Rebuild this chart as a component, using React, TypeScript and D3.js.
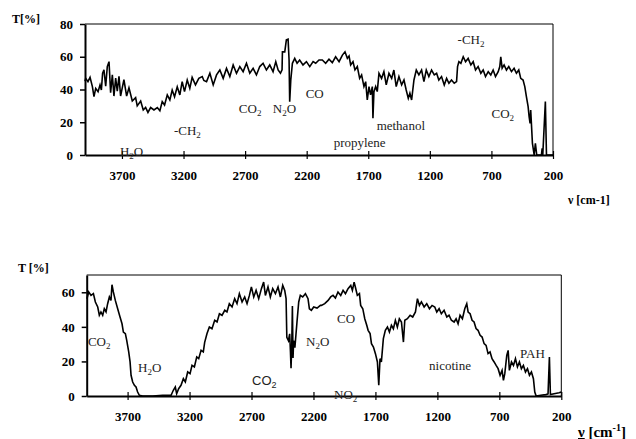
import React, { useEffect, useRef } from 'react';
import * as d3 from 'd3';

// wavenumber [cm-1], transmittance [%]
const topSpectrum: [number, number][] = [
  [4000, 45], [3994, 46.8], [3976, 44.8], [3959, 47.4], [3940, 41.8], [3927, 35.6], [3913, 40.7],
  [3894, 38.7], [3878, 42.8], [3867, 39.7], [3857, 50], [3846, 52], [3832, 42], [3819, 54],
  [3805, 57], [3792, 38], [3778, 49], [3765, 36], [3751, 47], [3738, 39], [3724, 48], [3711, 36],
  [3684, 46], [3662, 36], [3643, 41], [3616, 33], [3589, 35], [3576, 30], [3548, 33], [3527, 27.5],
  [3508, 29], [3489, 26], [3467, 29], [3440, 27.5], [3413, 29], [3392, 27], [3373, 32.6],
  [3354, 30.5], [3332, 36.7], [3311, 33.6], [3292, 39.7], [3273, 35.6], [3251, 41.7], [3230, 36.7],
  [3211, 44.8], [3192, 38.7], [3170, 45.8], [3149, 40.7], [3130, 47.4], [3103, 42.8], [3076, 46.8],
  [3048, 47.9], [3035, 45.5], [3013, 44.8], [2986, 49.9], [2959, 42.8], [2932, 48.9], [2905, 51.9],
  [2878, 46.8], [2851, 52.9], [2824, 47.9], [2797, 55], [2770, 49.9], [2743, 54], [2716, 50.9],
  [2689, 56], [2662, 49.9], [2635, 52.9], [2608, 48.9], [2581, 54], [2554, 56], [2527, 51.9],
  [2500, 55], [2473, 50.9], [2451, 57], [2432, 51.9], [2413, 49.9], [2400, 52], [2397, 63],
  [2378, 63], [2365, 70.3], [2351, 70.7], [2343, 58], [2338, 32.6], [2329, 45.8], [2316, 56],
  [2297, 59], [2278, 56], [2257, 58], [2230, 55], [2202, 57], [2175, 54], [2148, 57], [2127, 56],
  [2100, 58], [2073, 58], [2046, 56], [2019, 58.5], [1992, 56.4], [1965, 60], [1937, 57],
  [1910, 61], [1889, 63], [1870, 59], [1856, 60.5], [1843, 55], [1824, 57], [1808, 52],
  [1789, 54], [1770, 46.8], [1754, 48.9], [1735, 41.8], [1721, 44.8], [1708, 33.6], [1694, 41.8],
  [1681, 36.7], [1667, 41.8], [1662, 22.4], [1654, 38.7], [1640, 41.8], [1627, 38.7], [1613, 49.9],
  [1592, 46.8], [1573, 50.9], [1554, 42.8], [1532, 49.9], [1510, 46.8], [1492, 51.9], [1473, 41.8],
  [1451, 47.9], [1429, 42.8], [1410, 45.8], [1392, 39.7], [1375, 34.6], [1362, 37.7], [1348, 33.6],
  [1329, 45.8], [1310, 51.9], [1289, 48.9], [1267, 51.9], [1248, 44.8], [1229, 51.9], [1208, 47.9],
  [1186, 51.9], [1164, 48.9], [1145, 49.9], [1127, 45.8], [1105, 47.9], [1083, 42.8], [1064, 46.8],
  [1045, 43.8], [1024, 45.8], [1002, 43.8], [983, 44.8], [975, 54], [964, 57], [948, 56],
  [929, 60], [910, 57], [889, 59], [867, 55], [848, 57], [829, 51.9], [808, 54], [786, 49.9],
  [767, 51.9], [748, 47.9], [726, 50.9], [705, 48.9], [686, 51.9], [667, 47.9], [645, 50.9],
  [632, 54], [624, 60], [613, 53], [597, 55], [578, 51.9], [559, 54], [537, 50.9], [516, 52.9],
  [497, 49.9], [478, 51.9], [462, 46.8], [443, 45.8], [429, 41.8], [416, 35.6], [402, 29.5],
  [394, 23.4], [386, 19.3], [381, 27.5], [367, 7.1], [353, 0], [343, 7.1], [332, 0], [294, 0],
  [288, 4], [283, 0], [262, 32.6], [253, 0], [200, 0],
];

const bottomSpectrum: [number, number][] = [
  [4028, 56.3], [4014, 60.2], [3995, 58.2], [3976, 59.2], [3960, 54.4], [3941, 51.5], [3928, 46.7],
  [3915, 48.6], [3901, 46.7], [3888, 50.5], [3874, 48.6], [3861, 53.4], [3847, 57.3], [3834, 55.3],
  [3826, 64.4], [3815, 60.2], [3799, 55.3], [3780, 50.5], [3761, 45.7], [3745, 41.8], [3734, 37],
  [3718, 36.1], [3707, 32.2], [3691, 25.5], [3680, 19.7], [3672, 12], [3659, 8.1], [3645, 6.2],
  [3632, 5.2], [3619, 2.3], [3605, 0.4], [3578, 0], [3497, 0], [3417, 0.4], [3349, 0.4],
  [3331, 3.3], [3315, 5.2], [3304, 1.3], [3288, 4.2], [3269, 6.2], [3250, 10], [3234, 8.1],
  [3215, 13.9], [3196, 12.9], [3180, 17.7], [3161, 16.8], [3142, 22.6], [3126, 21.6], [3107, 26.4],
  [3089, 25.5], [3078, 31], [3059, 36.1], [3040, 39.9], [3019, 38.9], [2997, 43.8], [2978, 42.8],
  [2959, 47.6], [2938, 46.7], [2916, 49.6], [2898, 48.6], [2879, 53.4], [2857, 51.5], [2836, 56.3],
  [2817, 53.4], [2798, 59.2], [2776, 54.4], [2755, 57.3], [2736, 53.4], [2717, 58.2], [2701, 63.1],
  [2682, 57.3], [2663, 61.1], [2642, 56.3], [2620, 62.1], [2602, 65.9], [2588, 58.2], [2567, 63.1],
  [2548, 57.3], [2529, 62.1], [2507, 59.2], [2486, 63.1], [2467, 57.3], [2448, 64], [2432, 61.1],
  [2421, 56.3], [2415, 34], [2402, 32], [2392, 36], [2386, 26], [2381, 16], [2375, 30], [2370, 52],
  [2365, 22], [2360, 32], [2350, 28], [2333, 42.8], [2319, 54.4], [2306, 58.2], [2287, 57.3],
  [2265, 59.2], [2244, 56.3], [2233, 50.5], [2217, 49.6], [2198, 51.5], [2171, 50.9], [2144, 52.4],
  [2136, 52.4], [2109, 53.4], [2082, 55.3], [2061, 57.3], [2042, 58.2], [2023, 56.7], [2002, 60.2],
  [1980, 58.2], [1961, 61.1], [1942, 59.2], [1921, 62.1], [1899, 64], [1886, 61.1], [1872, 65.9],
  [1862, 63.1], [1846, 58.2], [1829, 59.2], [1819, 52.4], [1802, 50.5], [1786, 44.7], [1770, 40.9],
  [1759, 38], [1743, 36.1], [1732, 30.3], [1716, 28.3], [1700, 24.5], [1684, 19.7], [1673, 6.2],
  [1663, 21.6], [1652, 19.7], [1636, 33.2], [1620, 38], [1603, 39.9], [1587, 37], [1571, 40.9],
  [1555, 38.9], [1539, 43.8], [1523, 39.9], [1507, 44.7], [1490, 42.8], [1474, 31.2], [1463, 43.8],
  [1442, 44.7], [1420, 46.7], [1399, 45.7], [1377, 48.6], [1361, 56.3], [1345, 52.4], [1329, 54.4],
  [1307, 51.5], [1286, 53.4], [1264, 50.5], [1243, 52.4], [1221, 51.5], [1205, 48.6], [1186, 50.5],
  [1168, 47.6], [1146, 49.6], [1124, 45.7], [1106, 46.7], [1087, 43.8], [1065, 42.8], [1049, 44.7],
  [1033, 41.8], [1017, 46.7], [998, 44.7], [979, 50.5], [963, 53.4], [952, 48.6], [936, 47.6],
  [920, 43.8], [904, 42.8], [888, 39], [872, 38], [855, 35.1], [839, 34.1], [823, 30.3], [807, 29.3],
  [791, 24.5], [775, 25.5], [759, 21.6], [742, 19.7], [726, 17.7], [710, 15.8], [694, 12],
  [678, 14.8], [667, 9.1], [656, 12.9], [640, 23.5], [629, 26.4], [619, 14.8], [602, 19.7],
  [586, 17.7], [570, 21.6], [554, 16.8], [538, 19.7], [522, 15.8], [506, 17.7], [489, 13.9],
  [473, 15.8], [457, 12], [441, 13.9], [425, 10], [414, 2.3], [403, 0], [366, 0.4], [325, 0.8],
  [307, 1.2], [296, 22.6], [288, 0.8], [258, 1.3], [218, 1.9], [200, 2.3],
];

const xTicks = [3700, 3200, 2700, 2200, 1700, 1200, 700, 200];
const topYTicks = [0, 20, 40, 60, 80];
const bottomYTicks = [0, 20, 40, 60];

// [text, subscript, tail, wavenumber, T, sans]
type Note = [string, string, string, number, number, boolean?];
const topNotes: Note[] = [
  ['H', '2', 'O', 3716, -0.6],
  ['-CH', '2', '', 3278, 12.2],
  ['CO', '2', '', 2751, 25.6],
  ['N', '2', 'O', 2475, 25.6],
  ['CO', '', '', 2208, 34.8],
  ['propylene', '', '', 1981, 5.1],
  ['methanol', '', '', 1632, 15.3],
  ['-CH', '2', '', 975, 67.8],
  ['CO', '2', '', 699, 22.6],
];
const bottomNotes: Note[] = [
  ['CO', '2', '', 4020, 28.9],
  ['H', '2', 'O', 3616, 13.9],
  ['CO', '2', '', 2696, 6.4, true],
  ['N', '2', 'O', 2260, 28.9],
  ['CO', '', '', 2010, 42.2],
  ['NO', '2', '', 2034, -1.7],
  ['nicotine', '', '', 1267, 15.0],
  ['PAH', '', '', 533, 22.0],
];

const serif = '"Liberation Serif", "Times New Roman", serif';
const sans = '"Liberation Sans", Arial, sans-serif';

const App = () => {
  const svgRef = useRef<SVGSVGElement>(null);

  useEffect(() => {
    const svg = d3.select(svgRef.current);
    svg.selectAll('*').remove();

    const drawPanel = (
      data: [number, number][],
      notes: Note[],
      yTicks: number[],
      box: { left: number; right: number; top: number; bottom: number },
      xDomain: [number, number],
      yMax: number
    ) => {
      const x = d3.scaleLinear().domain(xDomain).range([box.left, box.right]);
      const y = d3.scaleLinear().domain([0, yMax]).range([box.bottom, box.top]);
      const g = svg.append('g');

      // frame (top and right)
      g.append('path')
        .attr('d', `M${box.left},${box.top}H${box.right}V${box.bottom}`)
        .attr('fill', 'none')
        .attr('stroke', '#000')
        .attr('stroke-width', 1);

      const yAxis = g
        .append('g')
        .attr('transform', `translate(${box.left},0)`)
        .call(d3.axisLeft(y).tickValues(yTicks).tickSizeInner(5).tickSizeOuter(0).tickPadding(7));
      yAxis.select('.domain').attr('stroke-width', 2);
      yAxis.selectAll('.tick line').attr('stroke-width', 1.5);
      yAxis
        .selectAll('text')
        .attr('font-family', serif)
        .attr('font-weight', 'bold')
        .attr('font-size', 13)
        .attr('fill', '#000');

      const xAxis = g
        .append('g')
        .attr('transform', `translate(0,${box.bottom})`)
        .call(d3.axisBottom(x).tickValues(xTicks).tickSizeOuter(0).tickFormat(d3.format('d')));
      xAxis.select('.domain').attr('stroke-width', 2);
      xAxis.selectAll('.tick line').attr('y1', -4).attr('y2', 4).attr('stroke-width', 1.2);
      xAxis
        .selectAll('text')
        .attr('y', 25)
        .attr('dy', 0)
        .attr('font-family', serif)
        .attr('font-weight', 'bold')
        .attr('font-size', 13)
        .attr('fill', '#000');

      const line = d3
        .line<[number, number]>()
        .x((d) => x(d[0]))
        .y((d) => y(d[1]));
      g.append('path')
        .datum(data)
        .attr('d', line)
        .attr('fill', 'none')
        .attr('stroke', '#000')
        .attr('stroke-width', 1.6)
        .attr('stroke-linejoin', 'miter');

      notes.forEach(([main, sub, tail, wn, t, isSans]) => {
        const text = g
          .append('text')
          .attr('x', x(wn))
          .attr('y', y(t))
          .attr('font-family', isSans ? sans : serif)
          .attr('font-size', 13)
          .attr('fill', '#222');
        text.append('tspan').text(main);
        if (sub) {
          text.append('tspan').attr('font-size', 9).attr('dy', 3).text(sub);
          if (tail) text.append('tspan').attr('dy', -3).text(tail);
        }
      });
    };

    drawPanel(topSpectrum, topNotes, topYTicks, { left: 85, right: 553, top: 24, bottom: 155 }, [4000, 200], 80);
    drawPanel(
      bottomSpectrum,
      bottomNotes,
      bottomYTicks,
      { left: 86.7, right: 561.3, top: 275, bottom: 396 },
      [4030, 200],
      70
    );

    const bold = (t: string, px: number, py: number, size: number) =>
      svg
        .append('text')
        .attr('x', px)
        .attr('y', py)
        .attr('font-family', serif)
        .attr('font-weight', 'bold')
        .attr('font-size', size)
        .attr('fill', '#000')
        .text(t);

    bold('T[%]', 12, 23, 12);
    bold('T [%]', 18, 272, 12);
    bold('\u03bd [cm-1]', 568, 204, 12);

    const unit = svg
      .append('text')
      .attr('x', 578)
      .attr('y', 437)
      .attr('font-family', serif)
      .attr('font-weight', 'bold')
      .attr('font-size', 15)
      .attr('fill', '#000');
    unit.append('tspan').attr('text-decoration', 'underline').text('\u03bd');
    unit.append('tspan').text(' [cm');
    unit.append('tspan').attr('font-size', 10).attr('dy', -6).text('-1');
    unit.append('tspan').attr('dy', 6).text(']');
  }, []);

  return (
    <svg
      ref={svgRef}
      width={636}
      height={439}
      style={{ position: 'absolute', left: 0, top: 0, background: '#fff' }}
    />
  );
};

export default App;
